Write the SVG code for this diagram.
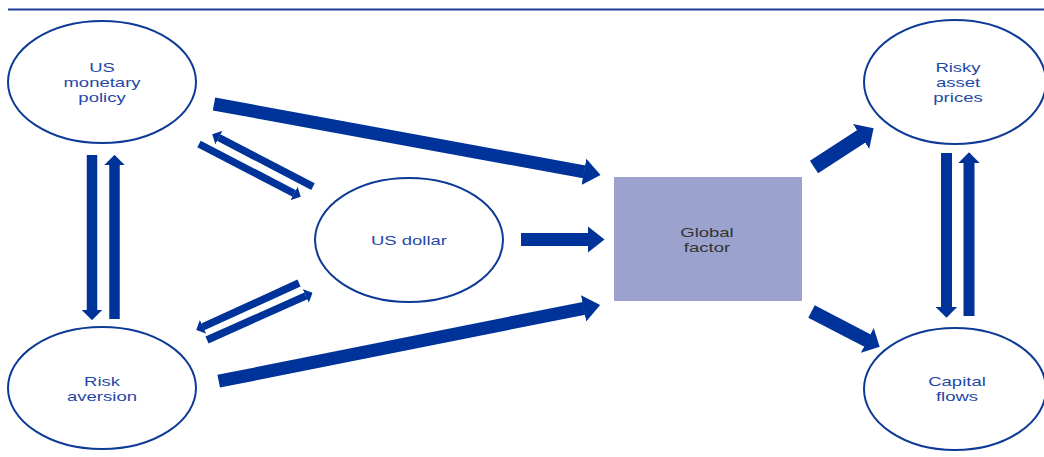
<svg xmlns="http://www.w3.org/2000/svg" width="1044" height="457" viewBox="0 0 1044 457">
<style>
.node{fill:#ffffff;stroke:#0d3a96;stroke-width:2}
.lbl{font-family:"Liberation Sans",Arial,sans-serif;font-size:13.5px;fill:#1f48a8;text-anchor:middle}
.glbl{font-family:"Liberation Sans",Arial,sans-serif;font-size:13.5px;fill:#333333;text-anchor:middle}
.arr{stroke:#003399;fill:none;stroke-linecap:butt}
</style>
<defs>
<marker id="hb" viewBox="0 0 1.3 2.05" markerWidth="1.3" markerHeight="2.05" refX="0.03" refY="1.025" orient="auto" markerUnits="strokeWidth"><path d="M0,0 L1.3,1.025 L0,2.05 Z" fill="#003399"/></marker>
<marker id="h90" viewBox="0 0 1 2" markerWidth="1" markerHeight="2" refX="0.03" refY="1" orient="auto" markerUnits="strokeWidth"><path d="M0,0 L1,1 L0,2 Z" fill="#003399"/></marker>
</defs>
<rect x="0" y="0" width="1044" height="457" fill="#ffffff"/>
<line x1="8" y1="9.5" x2="1044" y2="9.5" stroke="#1f3f9a" stroke-width="2"/>

<g id="connectors">
<line class="arr" x1="214" y1="104" x2="584.3" y2="171.9" stroke-width="13" marker-end="url(#hb)"/>
<line class="arr" x1="218.7" y1="381.2" x2="584" y2="308.3" stroke-width="13" marker-end="url(#hb)"/>
<line class="arr" x1="521" y1="239.5" x2="588" y2="239.5" stroke-width="13" marker-end="url(#hb)"/>
<line class="arr" x1="814" y1="167" x2="861.4" y2="136.2" stroke-width="15" marker-end="url(#h90)"/>
<line class="arr" x1="811.5" y1="311.5" x2="867.6" y2="340.6" stroke-width="14" marker-end="url(#h90)"/>
<line class="arr" x1="92" y1="155" x2="92" y2="310" stroke-width="10.5" marker-end="url(#h90)"/>
<line class="arr" x1="114.5" y1="319" x2="114.5" y2="165" stroke-width="10.5" marker-end="url(#h90)"/>
<line class="arr" x1="946.5" y1="153" x2="946.5" y2="307" stroke-width="11" marker-end="url(#h90)"/>
<line class="arr" x1="969" y1="316" x2="969" y2="163" stroke-width="11" marker-end="url(#h90)"/>
<line class="arr" x1="313" y1="186.6" x2="218.7" y2="137.5" stroke-width="7.5" marker-end="url(#h90)"/>
<line class="arr" x1="199" y1="144" x2="294.3" y2="193.5" stroke-width="7.5" marker-end="url(#h90)"/>
<line class="arr" x1="299" y1="283" x2="202.8" y2="326.9" stroke-width="7.5" marker-end="url(#h90)"/>
<line class="arr" x1="207" y1="340" x2="305.9" y2="295.8" stroke-width="7.5" marker-end="url(#h90)"/>
</g>

<g id="us-monetary-policy">
<ellipse class="node" cx="102" cy="82" rx="94" ry="61"/>
<g transform="translate(102,0) scale(1.37,1)">
<text class="lbl" x="0" y="72">US</text>
<text class="lbl" x="0" y="87">monetary</text>
<text class="lbl" x="0" y="102">policy</text>
</g>
</g>

<g id="risk-aversion">
<ellipse class="node" cx="102" cy="388" rx="94" ry="61"/>
<g transform="translate(102,0) scale(1.37,1)">
<text class="lbl" x="0" y="386">Risk</text>
<text class="lbl" x="0" y="401">aversion</text>
</g>
</g>

<g id="us-dollar">
<ellipse class="node" cx="409" cy="240" rx="94" ry="62"/>
<g transform="translate(409,0) scale(1.37,1)">
<text class="lbl" x="0" y="245">US dollar</text>
</g>
</g>

<g id="global-factor">
<rect x="614" y="177" width="188" height="124" fill="#9aa2cd"/>
<g transform="translate(707,0) scale(1.37,1)">
<text class="glbl" x="0" y="237">Global</text>
<text class="glbl" x="0" y="252">factor</text>
</g>
</g>

<g id="risky-asset-prices">
<ellipse class="node" cx="955" cy="82" rx="91" ry="62"/>
<g transform="translate(958,0) scale(1.37,1)">
<text class="lbl" x="0" y="72">Risky</text>
<text class="lbl" x="0" y="87">asset</text>
<text class="lbl" x="0" y="102">prices</text>
</g>
</g>

<g id="capital-flows">
<ellipse class="node" cx="955" cy="389" rx="91" ry="61"/>
<g transform="translate(957,0) scale(1.37,1)">
<text class="lbl" x="0" y="386">Capital</text>
<text class="lbl" x="0" y="401">flows</text>
</g>
</g>
</svg>
